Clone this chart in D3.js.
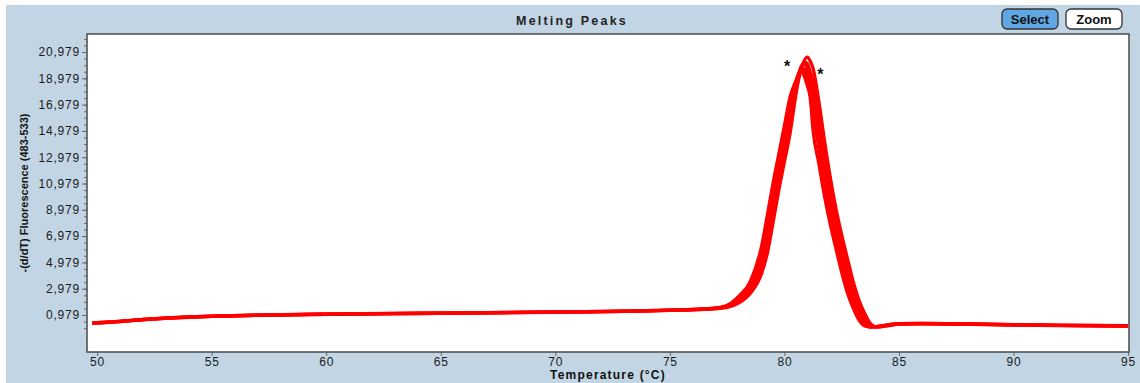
<!DOCTYPE html>
<html>
<head>
<meta charset="utf-8">
<script src="https://cdn.jsdelivr.net/npm/d3@7"></script>
<style>
  body { margin: 0; background: #fff; }
  svg { display: block; font-family: "Liberation Sans", Arial, sans-serif; }
</style>
</head>
<body>
<div id="chart"></div>
<script>
// temperatures (°C) shared by all curves
const temps = [49.8, 51, 52, 53, 54, 55, 57, 60, 63, 66, 70, 73, 75, 76,
  77, 77.5, 78, 78.5, 79, 79.25, 79.5, 79.75, 80, 80.25, 80.5, 80.625, 80.75, 80.875,
  81, 81.125, 81.25, 81.5, 81.75, 82, 82.25, 82.5, 82.75, 83, 83.25, 83.5, 83.75,
  84, 84.5, 85, 86, 88, 90, 92, 95];

// -(d/dT) fluorescence for each sample
const sampleA = [0.385, 0.505, 0.645, 0.755, 0.835, 0.895, 0.975, 1.055, 1.105, 1.145, 1.215, 1.275, 1.355, 1.405,
  1.52, 1.72, 2.40, 3.50, 6.20, 8.55, 11.00, 13.20, 15.40, 17.60, 18.80, 19.35, 19.55, 19.10,
  18.40, 17.50, 15.00, 12.50, 10.00, 7.86, 6.00, 4.20, 2.65, 1.50, 0.60, 0.14, 0.06,
  0.10, 0.23, 0.33, 0.35, 0.31, 0.25, 0.21, 0.17];
const sampleB = [0.38, 0.50, 0.64, 0.75, 0.83, 0.89, 0.97, 1.05, 1.10, 1.14, 1.21, 1.27, 1.35, 1.40,
  1.50, 1.67, 2.22, 3.22, 5.55, 7.78, 10.25, 12.55, 14.65, 16.90, 18.65, 19.35, 19.75, 19.65,
  19.00, 18.20, 16.45, 13.65, 11.00, 8.68, 6.72, 4.92, 3.25, 1.92, 0.95, 0.28, 0.065,
  0.09, 0.215, 0.32, 0.34, 0.30, 0.24, 0.20, 0.16];
const sampleC = [0.37, 0.49, 0.63, 0.74, 0.82, 0.88, 0.96, 1.04, 1.09, 1.13, 1.20, 1.26, 1.34, 1.39,
  1.48, 1.62, 2.05, 2.95, 4.90, 7.00, 9.50, 11.90, 13.90, 16.20, 18.50, 19.35, 19.95, 20.15,
  19.65, 18.90, 17.90, 14.80, 12.00, 9.50, 7.45, 5.65, 3.85, 2.35, 1.30, 0.42, 0.07,
  0.08, 0.20, 0.31, 0.33, 0.29, 0.23, 0.19, 0.15];
const sampleD = [0.36, 0.48, 0.62, 0.73, 0.81, 0.87, 0.95, 1.03, 1.08, 1.12, 1.19, 1.25, 1.33, 1.38,
  1.47, 1.59, 1.96, 2.78, 4.50, 6.35, 8.75, 11.20, 13.30, 15.55, 18.10, 19.10, 19.65, 20.25,
  20.10, 19.50, 18.80, 16.05, 13.10, 10.50, 8.30, 6.40, 4.60, 2.95, 1.72, 0.77, 0.20,
  0.07, 0.185, 0.30, 0.32, 0.28, 0.22, 0.18, 0.14];
const sampleE = [0.355, 0.475, 0.615, 0.725, 0.805, 0.865, 0.945, 1.025, 1.075, 1.115, 1.185, 1.245, 1.325, 1.375,
  1.46, 1.56, 1.88, 2.60, 4.10, 5.60, 7.95, 10.40, 12.60, 14.80, 17.70, 18.90, 19.75, 20.35,
  20.60, 20.30, 19.75, 17.30, 14.25, 11.50, 9.10, 7.10, 5.30, 3.55, 2.14, 1.12, 0.35,
  0.07, 0.15, 0.29, 0.31, 0.27, 0.21, 0.17, 0.13];
const samples = [sampleA, sampleB, sampleC, sampleD, sampleE];

// peak markers (*)
const markTemps = [80.12, 81.57];
const markVals = [20.35, 19.8];

const xTicks = [50, 55, 60, 65, 70, 75, 80, 85, 90, 95];
const yTicks = [0.979, 2.979, 4.979, 6.979, 8.979, 10.979, 12.979, 14.979, 16.979, 18.979, 20.979];

const width = 1140;
const height = 383;
const plot = { left: 87, right: 1129, top: 34, bottom: 352 };
const panelColor = "#c2d5e4";
const lineColor = "#ff0000";

const svg = d3.select("#chart")
  .append("svg")
  .attr("width", width)
  .attr("height", height);

svg.append("rect")
  .attr("x", 6).attr("y", 5)
  .attr("width", width - 6).attr("height", height - 5)
  .attr("fill", panelColor);

svg.append("rect")
  .attr("x", plot.left).attr("y", plot.top)
  .attr("width", plot.right - plot.left).attr("height", plot.bottom - plot.top)
  .attr("fill", "#fff");

const xScale = d3.scaleLinear()
  .domain([49.56, 95.04])
  .range([plot.left, plot.right]);

const yScale = d3.scaleLinear()
  .domain([-1.835, 22.35])
  .range([plot.bottom, plot.top]);

const fmt = d3.formatLocale({ decimal: ",", thousands: ".", grouping: [3], currency: ["", ""] }).format(".3f");

// axes
const xAxis = d3.axisBottom(xScale)
  .tickValues(xTicks)
  .tickSize(4)
  .tickPadding(1)
  .tickFormat(d3.format("d"));

svg.append("g")
  .attr("transform", `translate(0, ${plot.bottom})`)
  .call(xAxis);

const yMinor = d3.range(-0.021, 22.2, 0.5);
svg.append("g")
  .attr("transform", `translate(${plot.left}, 0)`)
  .call(d3.axisLeft(yScale).tickValues(yMinor).tickSize(3).tickFormat(""));

svg.append("g")
  .attr("transform", `translate(${plot.left}, 0)`)
  .call(d3.axisLeft(yScale).tickValues(yTicks).tickSize(5).tickPadding(2).tickFormat(fmt));

svg.selectAll(".tick line").attr("stroke", "#6a6a6a");
svg.selectAll(".domain").remove();
svg.selectAll(".tick text")
  .attr("fill", "#1a1a1a")
  .attr("font-size", 12)
  .attr("letter-spacing", "0.8px")
  .attr("font-family", "Liberation Sans, Arial, sans-serif");

// plot frame
svg.append("rect")
  .attr("x", plot.left).attr("y", plot.top)
  .attr("width", plot.right - plot.left).attr("height", plot.bottom - plot.top)
  .attr("fill", "none")
  .attr("stroke", "#4a4a4a")
  .attr("stroke-width", 1.5);

// curves
const line = d3.line()
  .x((d, i) => xScale(temps[i]))
  .y(d => yScale(d))
  .curve(d3.curveMonotoneX);

svg.append("g")
  .selectAll("path")
  .data(samples)
  .join("path")
  .attr("d", line)
  .attr("fill", "none")
  .attr("stroke", lineColor)
  .attr("stroke-width", 3.2)
  .attr("stroke-linejoin", "round");

svg.append("g")
  .selectAll("text")
  .data(markTemps)
  .join("text")
  .attr("x", d => xScale(d))
  .attr("y", (d, i) => yScale(markVals[i]))
  .attr("dy", "0.75em")
  .attr("text-anchor", "middle")
  .attr("font-size", 16)
  .attr("font-weight", "bold")
  .attr("fill", "#111")
  .text("*");

// titles
svg.append("text")
  .attr("x", 572)
  .attr("y", 25)
  .attr("text-anchor", "middle")
  .attr("font-size", 12.5)
  .attr("font-weight", "bold")
  .attr("letter-spacing", "2.2px")
  .attr("fill", "#222")
  .text("Melting Peaks");

svg.append("text")
  .attr("x", (plot.left + plot.right) / 2)
  .attr("y", 379)
  .attr("text-anchor", "middle")
  .attr("font-size", 12)
  .attr("font-weight", "bold")
  .attr("letter-spacing", "1.2px")
  .attr("fill", "#111")
  .text("Temperature (°C)");

svg.append("text")
  .attr("transform", "rotate(-90)")
  .attr("x", -(plot.top + plot.bottom) / 2)
  .attr("y", 28)
  .attr("text-anchor", "middle")
  .attr("font-size", 11)
  .attr("font-weight", "bold")
  .attr("font-family", "Liberation Sans Narrow, Liberation Sans, Arial, sans-serif")
  .attr("fill", "#111")
  .text("-(d/dT) Fluorescence (483-533)");

// buttons
const buttons = [
  { label: "Select", x: 1002, w: 56, fill: "#5fa6e2" },
  { label: "Zoom", x: 1066, w: 56, fill: "#ffffff" }
];

const btn = svg.append("g")
  .selectAll("g")
  .data(buttons)
  .join("g")
  .attr("transform", d => `translate(${d.x}, 9)`);

btn.append("rect")
  .attr("width", d => d.w)
  .attr("height", 20)
  .attr("rx", 5)
  .attr("fill", d => d.fill)
  .attr("stroke", "#333")
  .attr("stroke-width", 1.3);

btn.append("text")
  .attr("x", d => d.w / 2)
  .attr("y", 15)
  .attr("text-anchor", "middle")
  .attr("font-size", 13)
  .attr("font-weight", "bold")
  .attr("fill", "#111")
  .text(d => d.label);
</script>
</body>
</html>
